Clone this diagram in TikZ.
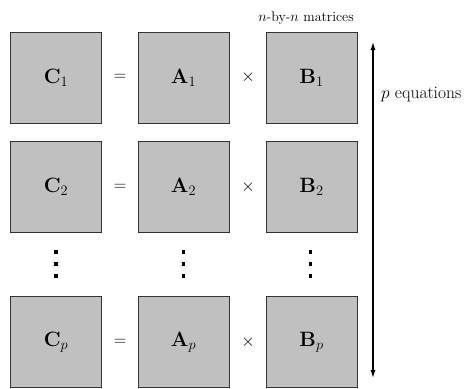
\documentclass[tikz,border=0pt]{standalone}
\usetikzlibrary{arrows.meta}
\definecolor{boxfill}{HTML}{C0C0C0}
\definecolor{boxline}{HTML}{333333}
\begin{document}
\begin{tikzpicture}[x=1pt,y=-1pt,
  mbox/.style={draw=boxline,line width=1pt,fill=boxfill,minimum width=91pt,minimum height=91pt,inner sep=0pt,font=\fontsize{20}{24}\selectfont},
  op/.style={inner sep=0pt,font=\fontsize{17}{20}\selectfont},
  dotsq/.style={fill=black,minimum size=3.4pt,inner sep=0pt},
  lbl/.style={inner sep=0pt,anchor=west}]
\useasboundingbox (0,0) rectangle (470,388);
% row 1
\node[mbox] (c1) at (56,77.5) {$\mathbf{C}_1$};
\node[op] (eq1) at (120,77.5) {$=$};
\node[mbox] (a1) at (183.5,77.5) {$\mathbf{A}_1$};
\node[op] (x1) at (248,77.5) {$\times$};
\node[mbox] (b1) at (311.5,77.5) {$\mathbf{B}_1$};
% row 2
\node[mbox] (c2) at (56,187) {$\mathbf{C}_2$};
\node[op] (eq2) at (120,187) {$=$};
\node[mbox] (a2) at (183.5,187) {$\mathbf{A}_2$};
\node[op] (x2) at (248,187) {$\times$};
\node[mbox] (b2) at (311.5,187) {$\mathbf{B}_2$};
% row p
\node[mbox] (cp) at (56,342) {$\mathbf{C}_p$};
\node[op] (eqp) at (120,342) {$=$};
\node[mbox] (ap) at (183.5,342) {$\mathbf{A}_p$};
\node[op] (xp) at (248,342) {$\times$};
\node[mbox] (bp) at (311.5,342) {$\mathbf{B}_p$};
% dots
\foreach \cx/\nm in {56/c,183.5/a,310.5/b}{
  \node[dotsq] (\nm d1) at (\cx,252) {};
  \node[dotsq] (\nm d2) at (\cx,264) {};
  \node[dotsq] (\nm d3) at (\cx,276) {};
}
% labels
\node[inner sep=0pt,font=\fontsize{14}{16}\selectfont] (top) at (306,18) {$n$-by-$n$ matrices};
\coordinate (atop) at (373,41);
\coordinate (abot) at (373,379);
\draw[line width=1.8pt,{Latex[length=9pt,width=5pt]}-{Latex[length=9pt,width=5pt]}] (atop) -- (abot);
\node[lbl,font=\fontsize{17.5}{20}\selectfont] (peq) at (381,95) {$p$ equations};
\end{tikzpicture}
\end{document}
